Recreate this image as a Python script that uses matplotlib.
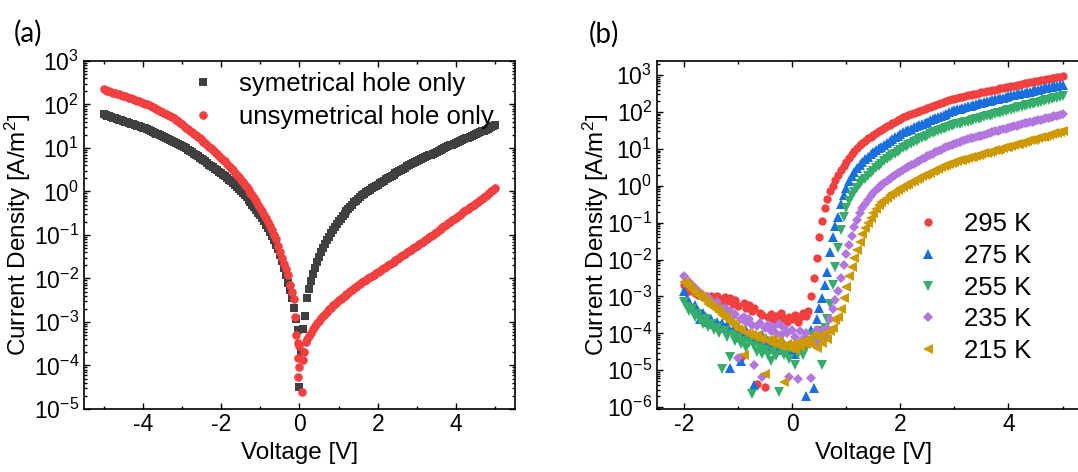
import numpy as np
import matplotlib
matplotlib.use("Agg")
import matplotlib.pyplot as plt
from matplotlib.ticker import LogLocator, MultipleLocator, NullFormatter

plt.rcParams["font.family"] = ["Liberation Sans", "DejaVu Sans"]
plt.rcParams["mathtext.fontset"] = "custom"
plt.rcParams["mathtext.rm"] = "Liberation Sans"
plt.rcParams["mathtext.it"] = "Liberation Sans:italic"
plt.rcParams["mathtext.default"] = "regular"
plt.rcParams["axes.unicode_minus"] = False

# ---------------- (a) hole-only devices, log10 of |J| in A/m^2 ----------------
# sweep in 50 mV steps, plus the scattered points around 0 V
v_neg_sym = np.round(np.arange(-5.0, -0.175, 0.05), 2)     # -5.00 ... -0.20
v_zero_sym = [-0.15, -0.10, -0.05, 0.0, 0.05, 0.10, 0.15]
v_pos = np.round(np.arange(0.2, 5.025, 0.05), 2)            # 0.20 ... 5.00

logj_sym_neg = [1.77, 1.755, 1.74, 1.725, 1.71, 1.695, 1.68, 1.665, 1.65, 1.635,
                1.62, 1.605, 1.59, 1.575, 1.56, 1.545, 1.53, 1.515, 1.50, 1.485,
                1.47, 1.45, 1.43, 1.41, 1.39, 1.37, 1.35, 1.33, 1.31, 1.29,
                1.27, 1.25, 1.23, 1.205, 1.18, 1.16, 1.14, 1.12, 1.10, 1.075,
                1.05, 1.02, 0.99, 0.96, 0.93, 0.90, 0.87, 0.84, 0.81, 0.78,
                0.75, 0.72, 0.69, 0.655, 0.62, 0.59, 0.56, 0.525, 0.49, 0.455,
                0.42, 0.385, 0.35, 0.31, 0.27, 0.23, 0.19, 0.15, 0.11, 0.065,
                0.02, -0.03, -0.08, -0.135, -0.19, -0.245, -0.30, -0.36, -0.42, -0.485,
                -0.55, -0.62, -0.69, -0.77, -0.85, -0.935, -1.02, -1.12, -1.22, -1.33,
                -1.45, -1.60, -1.75, -1.92, -2.10, -2.27, -2.45]
logj_sym_zero = [-2.68, -2.92, -3.18, -4.49, -3.70, -3.15, -2.86]
logj_sym_pos = [-2.45, -2.24, -2.05, -1.89, -1.75, -1.62, -1.50, -1.39, -1.29, -1.20,
                -1.12, -1.04, -0.96, -0.89, -0.82, -0.75, -0.68, -0.625, -0.57, -0.515,
                -0.46, -0.405, -0.35, -0.30, -0.25, -0.21, -0.17, -0.13, -0.09, -0.055,
                -0.02, 0.01, 0.04, 0.07, 0.10, 0.13, 0.16, 0.19, 0.22, 0.25,
                0.28, 0.305, 0.33, 0.36, 0.39, 0.415, 0.44, 0.47, 0.50, 0.525,
                0.55, 0.575, 0.60, 0.625, 0.65, 0.675, 0.70, 0.72, 0.74, 0.765,
                0.79, 0.81, 0.83, 0.85, 0.87, 0.89, 0.91, 0.935, 0.96, 0.98,
                1.00, 1.02, 1.04, 1.06, 1.08, 1.10, 1.12, 1.14, 1.16, 1.18,
                1.20, 1.22, 1.24, 1.26, 1.28, 1.30, 1.32, 1.34, 1.36, 1.38,
                1.40, 1.42, 1.44, 1.46, 1.48, 1.50, 1.52]

v_neg_unsym = np.round(np.arange(-5.0, -0.275, 0.05), 2)   # -5.00 ... -0.30
v_zero_unsym = [-0.24, -0.20, -0.15, -0.11, -0.08, -0.05, -0.04, -0.02, -0.03,
                0.06, 0.0, 0.10, 0.12, 0.16]
logj_unsym_neg = [2.35, 2.335, 2.32, 2.305, 2.29, 2.275, 2.26, 2.245, 2.23, 2.215,
                  2.20, 2.185, 2.17, 2.155, 2.14, 2.125, 2.11, 2.09, 2.075, 2.06,
                  2.04, 2.02, 2.00, 1.98, 1.96, 1.94, 1.92, 1.895, 1.87, 1.85,
                  1.83, 1.805, 1.78, 1.755, 1.73, 1.705, 1.68, 1.645, 1.61, 1.575,
                  1.54, 1.505, 1.47, 1.435, 1.40, 1.365, 1.33, 1.295, 1.26, 1.22,
                  1.18, 1.145, 1.11, 1.07, 1.03, 0.99, 0.95, 0.91, 0.87, 0.825,
                  0.78, 0.735, 0.69, 0.64, 0.59, 0.54, 0.49, 0.435, 0.38, 0.325,
                  0.27, 0.215, 0.16, 0.10, 0.04, -0.025, -0.09, -0.16, -0.23, -0.30,
                  -0.37, -0.45, -0.53, -0.615, -0.70, -0.79, -0.88, -0.99, -1.10, -1.25,
                  -1.40, -1.53, -1.66, -1.79, -1.92]
logj_unsym_zero = [-2.15, -2.30, -2.48, -2.88, -3.30, -3.48, -3.83, -4.03, -4.26,
                   -4.62, -3.55, -3.87, -3.68, -3.45]
logj_unsym_pos = [-3.40, -3.32, -3.25, -3.17, -3.10, -3.03, -2.97, -2.91, -2.86, -2.81,
                  -2.76, -2.71, -2.67, -2.62, -2.58, -2.54, -2.50, -2.465, -2.43, -2.395,
                  -2.36, -2.325, -2.29, -2.255, -2.22, -2.185, -2.15, -2.12, -2.09, -2.06,
                  -2.03, -2.00, -1.97, -1.94, -1.91, -1.88, -1.85, -1.82, -1.79, -1.76,
                  -1.73, -1.70, -1.67, -1.64, -1.61, -1.58, -1.55, -1.52, -1.49, -1.46,
                  -1.43, -1.40, -1.37, -1.34, -1.31, -1.28, -1.25, -1.215, -1.18, -1.15,
                  -1.12, -1.085, -1.05, -1.02, -0.99, -0.955, -0.92, -0.89, -0.86, -0.825,
                  -0.79, -0.76, -0.73, -0.695, -0.66, -0.63, -0.60, -0.565, -0.53, -0.495,
                  -0.46, -0.43, -0.40, -0.365, -0.33, -0.30, -0.27, -0.235, -0.20, -0.165,
                  -0.13, -0.095, -0.06, -0.025, 0.01, 0.045, 0.08]

# ---------------- (b) temperature series, log10 of |J| in A/m^2 ----------------
v_b = np.round(np.arange(-2.0, 5.025, 0.05), 2)              # -2.00 ... 5.00
temps = ["295 K", "275 K", "255 K", "235 K", "215 K"]

logj_295 = [-2.70, -2.78, -2.85, -2.80, -2.92, -2.95, -2.90, -3.02, -2.98, -3.05,
            -3.00, -3.10, -2.98, -3.08, -3.15, -3.02, -3.12, -3.05, -3.20, -3.10,
            -3.25, -4.65, -3.18, -3.30, -3.22, -3.40, -3.32, -5.36, -3.45, -3.50,
            -5.45, -3.55, -3.48, -3.60, -3.52, -3.65, -3.45, -3.58, -3.70, -3.55,
            -3.62, -3.50, -3.68, -3.56, -3.45, -3.52, -3.40,
            -3.00, -2.50, -1.95, -1.40, -0.95, -0.60, -0.35, -0.15, 0.00, 0.15,
            0.29, 0.42, 0.54, 0.65, 0.75, 0.85, 0.94, 1.03,
            1.10, 1.17, 1.225, 1.28, 1.325, 1.37, 1.42, 1.47, 1.515, 1.56,
            1.605, 1.65, 1.695, 1.74, 1.78, 1.82, 1.85, 1.88, 1.91, 1.94,
            1.97, 2.00, 2.03, 2.06, 2.085, 2.11, 2.14, 2.17, 2.195, 2.22,
            2.245, 2.27, 2.295, 2.32, 2.34, 2.36, 2.38, 2.40, 2.415, 2.43,
            2.445, 2.46, 2.475, 2.49, 2.51, 2.53, 2.545, 2.56, 2.575, 2.59,
            2.605, 2.62, 2.635, 2.65, 2.665, 2.68, 2.695, 2.71, 2.725, 2.74,
            2.755, 2.77, 2.785, 2.80, 2.815, 2.83, 2.845, 2.86, 2.875, 2.89,
            2.905, 2.92, 2.93, 2.94, 2.955, 2.97]
logj_275 = [-2.85, -3.05, -3.15, -3.30, -3.22, -3.40, -3.60, -3.45, -3.55, -3.70,
            -3.62, -3.74, -3.68, -3.80, -3.72, -3.85, -3.78, -4.95, -3.90, -3.82,
            -3.95, -4.76, -4.00, -3.92, -4.08, -4.15, -5.40, -4.10, -4.22, -4.05,
            -4.25, -4.18, -4.35, -4.20, -4.40, -4.28, -4.45, -4.30, -4.50, -4.35,
            -4.42, -4.55, -4.30, -4.45, -4.25, -5.70, -4.20,
            -3.90, -5.47, -3.60, -3.30, -3.05, -2.70, -2.35, -1.80, -1.40, -1.10,
            -0.85, -0.50, -0.25, -0.05, 0.12, 0.26, 0.38, 0.48,
            0.57, 0.65, 0.72, 0.79, 0.85, 0.91, 0.96, 1.01, 1.06, 1.11,
            1.16, 1.21, 1.26, 1.31, 1.36, 1.41, 1.445, 1.48, 1.515, 1.55,
            1.585, 1.62, 1.65, 1.68, 1.71, 1.74, 1.77, 1.80, 1.83, 1.86,
            1.89, 1.92, 1.955, 1.99, 2.02, 2.05, 2.07, 2.09, 2.11, 2.13,
            2.15, 2.17, 2.19, 2.21, 2.23, 2.25, 2.27, 2.29, 2.305, 2.32,
            2.34, 2.36, 2.375, 2.39, 2.41, 2.43, 2.445, 2.46, 2.475, 2.49,
            2.505, 2.52, 2.535, 2.55, 2.57, 2.59, 2.605, 2.62, 2.635, 2.65,
            2.665, 2.68, 2.695, 2.71, 2.725, 2.74]
logj_255 = [-3.15, -3.28, -3.40, -3.35, -3.55, -3.48, -3.65, -3.74, -3.60, -3.82,
            -3.75, -3.90, -3.85, -4.00, -4.96, -3.95, -4.10, -4.65, -4.05, -4.20,
            -4.12, -4.30, -4.20, -4.40, -4.25, -5.64, -4.35, -4.50, -4.40, -4.55,
            -4.45, -4.60, -4.74, -4.50, -4.62, -5.59, -4.45, -4.60, -4.50, -4.70,
            -4.40, -4.85, -4.55, -4.35, -4.60, -4.40, -4.30,
            -4.20, -4.05, -4.30, -3.95, -4.85, -3.85, -3.60, -3.20, -2.70, -2.20,
            -1.70, -1.20, -0.85, -0.60, -0.42, -0.28, -0.16, -0.06,
            0.04, 0.12, 0.195, 0.27, 0.34, 0.41, 0.475, 0.54, 0.60, 0.66,
            0.715, 0.77, 0.82, 0.87, 0.92, 0.97, 1.015, 1.06, 1.10, 1.14,
            1.18, 1.22, 1.255, 1.29, 1.325, 1.36, 1.39, 1.42, 1.45, 1.48,
            1.51, 1.54, 1.565, 1.59, 1.615, 1.64, 1.66, 1.68, 1.70, 1.72,
            1.74, 1.76, 1.78, 1.80, 1.82, 1.84, 1.86, 1.88, 1.90, 1.92,
            1.94, 1.96, 1.98, 2.00, 2.02, 2.04, 2.06, 2.08, 2.10, 2.12,
            2.14, 2.16, 2.18, 2.20, 2.215, 2.23, 2.25, 2.27, 2.29, 2.31,
            2.33, 2.35, 2.365, 2.38, 2.40, 2.42]
logj_235 = [-2.45, -2.55, -2.62, -2.70, -2.78, -2.85, -2.92, -2.98, -3.05, -3.02,
            -3.12, -3.20, -3.15, -3.28, -3.35, -3.30, -3.45, -3.40, -3.55, -3.48,
            -4.66, -3.60, -3.55, -3.70, -3.62, -3.78, -4.87, -3.80, -3.72, -5.19,
            -3.85, -3.78, -3.95, -3.82, -3.98, -3.75, -4.05, -3.85, -4.00, -5.19,
            -3.90, -4.10, -5.23, -3.95, -4.15, -4.00, -4.20,
            -5.20, -4.30, -3.90, -4.15, -3.95, -4.10, -3.85, -3.60, -3.35, -3.10,
            -2.85, -2.50, -2.15, -1.85, -1.60, -1.35, -1.12, -0.92,
            -0.75, -0.60, -0.49, -0.38, -0.29, -0.20, -0.125, -0.05, 0.015, 0.08,
            0.135, 0.19, 0.24, 0.29, 0.335, 0.38, 0.425, 0.47, 0.51, 0.55,
            0.59, 0.63, 0.675, 0.72, 0.76, 0.80, 0.835, 0.87, 0.905, 0.94,
            0.975, 1.01, 1.04, 1.07, 1.10, 1.13, 1.155, 1.18, 1.205, 1.23,
            1.255, 1.28, 1.30, 1.32, 1.34, 1.36, 1.385, 1.41, 1.43, 1.45,
            1.47, 1.49, 1.51, 1.53, 1.55, 1.57, 1.59, 1.61, 1.63, 1.65,
            1.67, 1.69, 1.705, 1.72, 1.74, 1.76, 1.775, 1.79, 1.81, 1.83,
            1.845, 1.86, 1.88, 1.90, 1.915, 1.93]
logj_215 = [-2.62, -2.70, -2.75, -2.82, -2.90, -2.95, -3.00, -3.08, -3.12, -3.20,
            -3.25, -3.30, -3.38, -3.42, -3.50, -3.55, -3.62, -3.68, -3.75, -3.80,
            -3.87, -3.90, -4.60, -3.98, -4.02, -4.05, -4.10, -4.05, -4.15, -4.12,
            -5.10, -4.18, -4.25, -4.15, -4.30, -4.22, -4.35, -5.32, -4.28, -4.40,
            -4.30, -4.45, -4.25, -4.38, -4.20, -4.30, -4.15,
            -4.30, -4.05, -4.40, -4.10, -4.25, -4.00, -4.15, -3.95, -3.85, -3.65,
            -3.55, -3.35, -3.05, -2.75, -2.45, -2.20, -1.95, -1.73,
            -1.53, -1.32, -1.15, -1.00, -0.87, -0.74, -0.63, -0.53, -0.45, -0.38,
            -0.32, -0.26, -0.21, -0.16, -0.115, -0.07, -0.03, 0.01, 0.05, 0.09,
            0.13, 0.17, 0.21, 0.25, 0.285, 0.32, 0.355, 0.39, 0.425, 0.46,
            0.495, 0.53, 0.56, 0.59, 0.62, 0.65, 0.67, 0.69, 0.71, 0.73,
            0.75, 0.77, 0.79, 0.81, 0.835, 0.86, 0.88, 0.90, 0.92, 0.94,
            0.96, 0.98, 1.00, 1.02, 1.04, 1.06, 1.08, 1.10, 1.12, 1.14,
            1.16, 1.18, 1.205, 1.23, 1.25, 1.27, 1.29, 1.31, 1.33, 1.35,
            1.37, 1.39, 1.415, 1.44, 1.46, 1.48]

series_b = [logj_295, logj_275, logj_255, logj_235, logj_215]
colors_b = ["#F14040", "#1A6FDF", "#37AD6B", "#B177DE", "#CC9900"]
markers_b = ["o", "^", "v", "D", "<"]
sizes_b = [6.0, 6.6, 6.6, 5.1, 6.6]


def style_axes(ax):
    ax.set_yscale("log")
    ax.yaxis.set_major_locator(LogLocator(base=10, numticks=20))
    ax.yaxis.set_minor_locator(LogLocator(base=10, subs=np.arange(2, 10), numticks=20))
    ax.yaxis.set_minor_formatter(NullFormatter())
    ax.xaxis.set_major_locator(MultipleLocator(2))
    ax.xaxis.set_minor_locator(MultipleLocator(1))
    ax.tick_params(which="both", direction="in", top=True, right=True, width=1.0)
    ax.tick_params(which="major", length=4.5, labelsize=16.5)
    ax.tick_params(which="minor", length=2.5)
    ax.tick_params(axis="x", which="major", pad=3)
    for s in ax.spines.values():
        s.set_linewidth(1.2)
    ax.set_xlabel("Voltage [V]", fontsize=17.5)
    ax.set_ylabel("Current Density [A/m$^2$]", fontsize=17.5)


fig = plt.figure(figsize=(10.78, 4.72), dpi=100)
ax_a = fig.add_axes([0.0779, 0.1335, 0.3998, 0.7373])
ax_b = fig.add_axes([0.6095, 0.1335, 0.4012, 0.7373])

# (a)
v_sym = np.concatenate([v_neg_sym, v_zero_sym, v_pos])
j_sym = 10 ** np.concatenate([logj_sym_neg, logj_sym_zero, logj_sym_pos])
v_unsym = np.concatenate([v_neg_unsym, v_zero_unsym, v_pos])
j_unsym = 10 ** np.concatenate([logj_unsym_neg, logj_unsym_zero, logj_unsym_pos])

ax_a.plot(v_sym, j_sym, ls="none", marker="s", ms=5.4, mew=0, color="#404040",
          label="symetrical hole only")
ax_a.plot(v_unsym, j_unsym, ls="none", marker="o", ms=6.2, mew=0, color="#F14040",
          label="unsymetrical hole only")
style_axes(ax_a)
ax_a.set_xlim(-5.5, 5.5)
ax_a.set_ylim(1e-5, 1e3)
ax_a.yaxis.set_label_coords(-0.118, 0.5)
ax_a.xaxis.set_label_coords(0.5, -0.095)
ax_a.legend(loc="upper left", bbox_to_anchor=(0.246, 0.968), frameon=False,
            fontsize=18.5, handlelength=1.0, handletextpad=0.9, borderpad=0,
            borderaxespad=0, labelspacing=0.36, markerscale=1.0)

# (b)
for logj, c, m, s, lab in zip(series_b, colors_b, markers_b, sizes_b, temps):
    ax_b.plot(v_b, 10 ** np.array(logj), ls="none", marker=m, ms=s, mew=0,
              color=c, label=lab)
style_axes(ax_b)
ax_b.set_xlim(-2.5, 5.5)
ax_b.set_ylim(10 ** -6.05, 10 ** 3.38)
ax_b.yaxis.set_label_coords(-0.106, 0.5)
ax_b.xaxis.set_label_coords(0.5, -0.095)
ax_b.legend(loc="upper left", bbox_to_anchor=(0.597, 0.565), frameon=False,
            fontsize=18.5, handlelength=1.0, handletextpad=0.9, borderpad=0,
            borderaxespad=0, labelspacing=0.3, markerscale=1.0)

fig.text(14 / 1078, 1 - 33 / 472, "(a)", fontsize=20, family=["Lato", "DejaVu Sans"],
         va="center", ha="left")
fig.text(589 / 1078, 1 - 34 / 472, "(b)", fontsize=20, family=["Lato", "DejaVu Sans"],
         va="center", ha="left")

fig.savefig("out.png", dpi=100)
